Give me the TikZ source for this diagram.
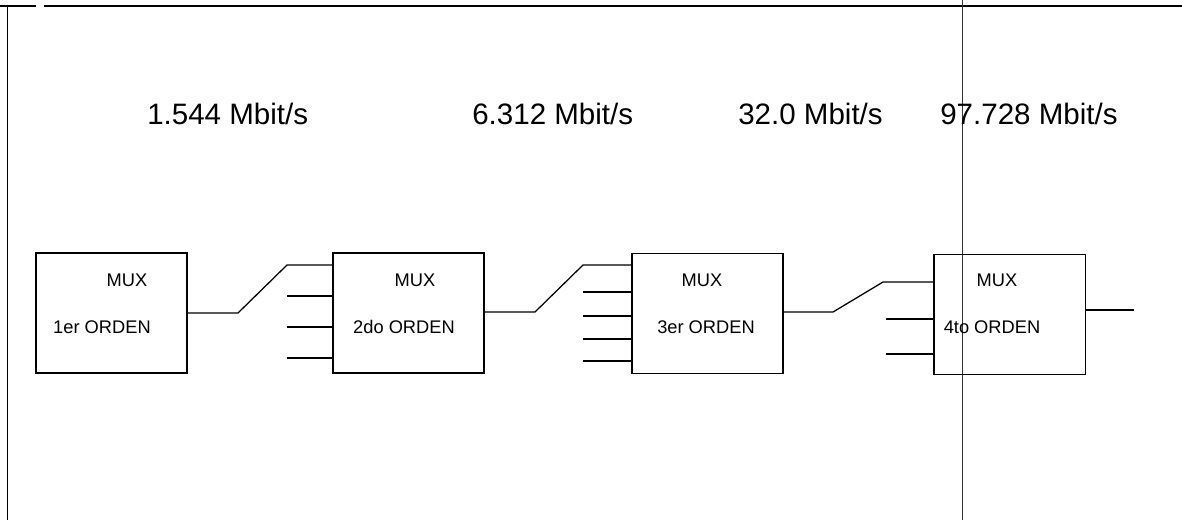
\documentclass[tikz,border=0pt]{standalone}
\usepackage{fontspec}
\setmainfont{Liberation Sans}
\begin{document}
\begin{tikzpicture}[x=0.025cm,y=-0.025cm,
  muxbox/.style={draw,line width=0.9pt,minimum width=3.78cm,minimum height=3cm,inner sep=0pt},
  wire/.style={line width=0.9pt},
  boxtext/.style={font=\fontsize{13}{15}\selectfont,inner sep=0pt},
  rate/.style={font=\fontsize{21}{25}\selectfont,anchor=base west,inner sep=0pt},
  frame/.style={line width=1.3pt},
  scanline/.style={line width=0.5pt,black!80}]
\useasboundingbox (0,0) rectangle (1182,520);
% frame
\draw[frame] (0,6) -- (36,6);
\draw[frame] (44,6) -- (1182,6);
\draw[line width=0.7pt] (7,7) -- (7,520);
\draw[scanline] (962,0) -- (962,520);
% rate labels
\node[rate] (r1) at (147,124) {1.544 Mbit/s};
\node[rate] (r2) at (472,124) {6.312 Mbit/s};
\node[rate] (r3) at (738,124) {32.0 Mbit/s};
\node[rate] (r4) at (940,124) {97.728 Mbit/s};
% boxes
\node[muxbox] (b1) at (111.5,313) {};
\node[muxbox] (b2) at (408.5,313) {};
\node[muxbox] (b3) at (707.5,313.5) {};
\node[muxbox] (b4) at (1009.5,314.5) {};
% box texts
\node[boxtext] (m1) at (127,280) {MUX};
\node[boxtext] (o1) at (102,327) {1er ORDEN};
\node[boxtext] (m2) at (415,280) {MUX};
\node[boxtext] (o2) at (404,327) {2do ORDEN};
\node[boxtext] (m3) at (702,280) {MUX};
\node[boxtext] (o3) at (706,327) {3er ORDEN};
\node[boxtext] (m4) at (997,280) {MUX};
\node[boxtext] (o4) at (992,327) {4to ORDEN};
% box1 -> box2
\coordinate (s1a) at (238,313);
\coordinate (s1b) at (287,265);
\draw[wire] (b1.east) -- (s1a) -- (s1b) -- (b2.west |- s1b);
\foreach \yy in {296,327,358}{
  \coordinate (i2) at (287,\yy);
  \draw[wire] (i2) -- (b2.west |- i2);
}
% box2 -> box3
\coordinate (s2a) at (535,312);
\coordinate (s2b) at (583,265);
\draw[wire] (b2.east |- s2a) -- (s2a) -- (s2b) -- (b3.west |- s2b);
\foreach \yy in {292,316,339,361}{
  \coordinate (i3) at (583,\yy);
  \draw[wire] (i3) -- (b3.west |- i3);
}
% box3 -> box4
\coordinate (s3a) at (833,312);
\coordinate (s3b) at (883,282);
\draw[wire] (b3.east |- s3a) -- (s3a) -- (s3b) -- (b4.west |- s3b);
\foreach \yy in {319,354}{
  \coordinate (i4) at (886,\yy);
  \draw[wire] (i4) -- (b4.west |- i4);
}
% output
\coordinate (out) at (1134,310);
\draw[wire] (b4.east |- out) -- (out);
\end{tikzpicture}
\end{document}
